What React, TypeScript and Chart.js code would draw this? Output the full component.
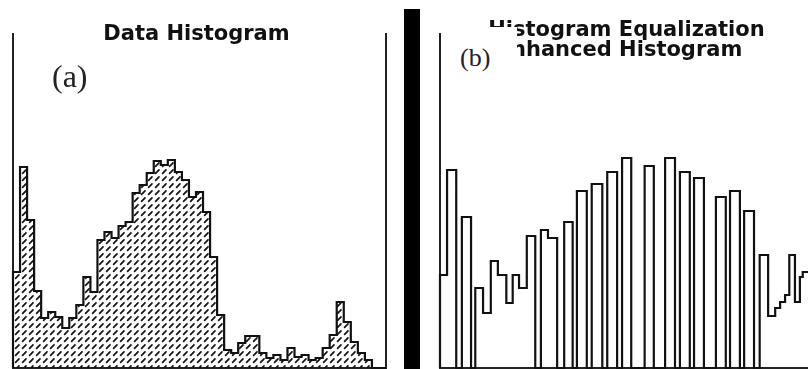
import React, { useEffect, useRef } from 'react';
import { Chart, registerables } from 'chart.js';

Chart.register(...registerables);

// ---------- data ----------
// Panel (a): data histogram, one count per gray-level bin
const dataBinCount = 53;
const dataCounts = [
  96, 201, 148, 77, 50, 56, 51, 40, 50, 63,
  91, 76, 128, 136, 130, 142, 146, 175, 183, 195,
  207, 203, 208, 196, 188, 171, 176, 156, 111, 53,
  18, 15, 25, 32, 32, 15, 10, 13, 8, 20,
  11, 13, 8, 10, 20, 33, 66, 46, 26, 15,
  8, 0, 0,
];

// Panel (b): equalized histogram, step start (in bin units) and count of each step
const enhancedStarts = [
  0, 1.0, 2.3, 3.1, 4.4, 5.0, 6.1, 7.2, 8.2, 9.4,
  10.3, 11.2, 12.3, 13.5, 14.3, 15.3, 16.6, 17.6, 18.8, 19.4,
  20.8, 21.5, 23.0, 23.7, 25.1, 25.8, 27.1, 29.0, 30.3, 31.9,
  33.3, 34.0, 35.4, 36.0, 37.4, 39.1, 40.5, 41.1, 42.5, 43.1,
  44.5, 45.3, 46.5, 47.5, 48.2, 48.9, 49.5, 50.3, 51.0, 51.4,
];
const enhancedCounts = [
  93, 198, 0, 151, 0, 80, 55, 107, 93, 65,
  93, 80, 132, 0, 138, 130, 0, 146, 0, 177,
  0, 184, 0, 196, 0, 210, 0, 202, 0, 210,
  0, 196, 0, 190, 0, 171, 0, 177, 0, 157,
  0, 113, 52, 60, 66, 73, 113, 66, 91, 96,
];

const countMax = 335;
const leftTitle = 'Data Histogram';
const rightTitleLine1 = 'Histogram Equalization';
const rightTitleLine2 = 'Enhanced Histogram';
const labelA = '(a)';
const labelB = '(b)';

// ---------- helpers ----------
function makeHatch(): CanvasPattern | string {
  const tile = document.createElement('canvas');
  tile.width = 7;
  tile.height = 7;
  const c = tile.getContext('2d');
  if (!c) return '#bbb';
  c.strokeStyle = '#151515';
  c.lineWidth = 1.7;
  c.lineCap = 'round';
  c.beginPath();
  c.moveTo(1.6, 5.4);
  c.lineTo(5.0, 1.8);
  c.stroke();
  return c.createPattern(tile, 'repeat') ?? '#bbb';
}

const framePlugin = {
  id: 'frame',
  beforeDatasetsDraw(chart: any) {
    const { ctx, chartArea } = chart;
    const { left, right, top, bottom } = chartArea;
    ctx.save();
    ctx.strokeStyle = '#222';
    ctx.lineWidth = 2;
    ctx.beginPath();
    ctx.moveTo(left, top);
    ctx.lineTo(left, bottom);
    ctx.lineTo(right, bottom);
    ctx.lineTo(right, top);
    ctx.stroke();
    ctx.restore();
  },
};

function histogramPoints(starts: number[], counts: number[], end: number) {
  const pts: { x: number; y: number }[] = [{ x: starts[0], y: 0 }];
  starts.forEach((s, i) => pts.push({ x: s, y: counts[i] }));
  pts.push({ x: end, y: 0 });
  return pts;
}

function makeOptions(padding: any): any {
  return {
    responsive: false,
    animation: false,
    devicePixelRatio: 1,
    layout: { padding },
    plugins: {
      legend: { display: false },
      title: { display: false },
      tooltip: { enabled: false },
    },
    elements: { point: { radius: 0 } },
    scales: {
      x: { type: 'linear', min: 0, max: dataBinCount, display: false },
      y: { type: 'linear', min: 0, max: countMax, display: false },
    },
  };
}

export default function App() {
  const leftRef = useRef<HTMLCanvasElement>(null);
  const rightRef = useRef<HTMLCanvasElement>(null);

  useEffect(() => {
    if (!leftRef.current || !rightRef.current) return;
    const dataStarts = dataCounts.map((_, i) => i);
    const left = new Chart(leftRef.current, {
      type: 'line',
      data: {
        datasets: [
          {
            data: histogramPoints(dataStarts, dataCounts, dataBinCount),
            stepped: 'before',
            borderColor: '#111',
            borderWidth: 2.2,
            backgroundColor: makeHatch(),
            fill: 'origin',
            clip: 4,
            pointRadius: 0,
          } as any,
        ],
      },
      options: makeOptions({ left: 13, right: 14, top: 33, bottom: 1 }),
      plugins: [framePlugin],
    });
    const right = new Chart(rightRef.current, {
      type: 'line',
      data: {
        datasets: [
          {
            data: histogramPoints(enhancedStarts, enhancedCounts, dataBinCount),
            stepped: 'before',
            borderColor: '#111',
            borderWidth: 2.2,
            fill: false,
            clip: 4,
            pointRadius: 0,
          } as any,
        ],
      },
      options: makeOptions({ left: 10, right: 16, top: 33, bottom: 1 }),
      plugins: [framePlugin],
    });
    return () => {
      left.destroy();
      right.destroy();
    };
  }, []);

  const sans = "'DejaVu Sans', 'Liberation Sans', sans-serif";
  const serif = "'Liberation Serif', 'DejaVu Serif', serif";
  const titleStyle: React.CSSProperties = {
    position: 'absolute',
    width: 400,
    textAlign: 'center',
    fontFamily: sans,
    fontWeight: 'bold',
    fontSize: 21,
    lineHeight: '21px',
    color: '#111',
    whiteSpace: 'nowrap',
  };

  return (
    <div
      style={{
        position: 'fixed',
        left: 0,
        top: 0,
        width: 808,
        height: 369,
        overflow: 'hidden',
        background: '#fff',
      }}
    >
      <canvas
        ref={leftRef}
        width={400}
        height={369}
        style={{ position: 'absolute', left: 0, top: 0, width: 400, height: 369 }}
      />
      <canvas
        ref={rightRef}
        width={400}
        height={369}
        style={{ position: 'absolute', left: 430, top: 0, width: 400, height: 369 }}
      />
      <div style={{ position: 'absolute', left: 404, top: 9, width: 16, height: 360, background: '#000' }} />
      <div style={{ ...titleStyle, left: 196.5 - 200, top: 23 }}>{leftTitle}</div>
      <div style={{ ...titleStyle, left: 626.5 - 200, top: 19 }}>{rightTitleLine1}</div>
      <div style={{ ...titleStyle, left: 619.5 - 200, top: 39 }}>{rightTitleLine2}</div>
      <div
        style={{
          position: 'absolute',
          left: 52,
          top: 60,
          fontFamily: serif,
          fontSize: 32,
          lineHeight: '32px',
          color: '#222',
          whiteSpace: 'nowrap',
        }}
      >
        {labelA}
      </div>
      <div
        style={{
          position: 'absolute',
          left: 450,
          top: 27,
          width: 67,
          height: 75,
          background: '#fff',
        }}
      >
        <div
          style={{
            position: 'absolute',
            left: 10,
            top: 18,
            fontFamily: serif,
            fontSize: 26,
            lineHeight: '26px',
            color: '#222',
            whiteSpace: 'nowrap',
          }}
        >
          {labelB}
        </div>
      </div>
    </div>
  );
}
